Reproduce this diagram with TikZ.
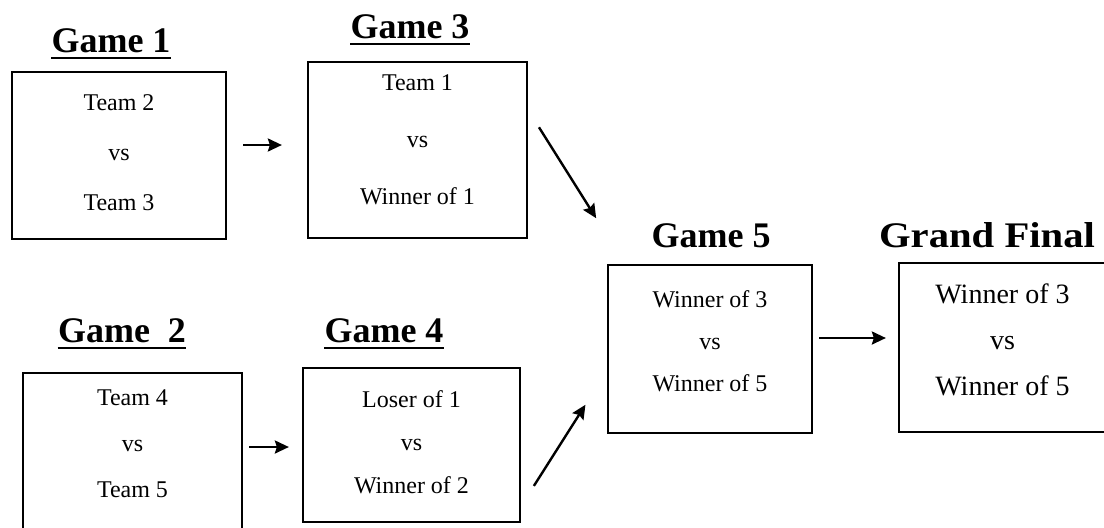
\documentclass[tikz,border=0pt]{standalone}
\usepackage{fontspec}
\setmainfont{Liberation Serif}
\usepackage{graphicx}
\usetikzlibrary{arrows.meta}

\tikzset{
  gamebox/.style={draw, line width=1.1pt, inner sep=0pt, align=center,
    font=\fontsize{12}{14.5}\selectfont},
  finalbox/.style={gamebox, font=\fontsize{14}{17}\selectfont},
  gametitle/.style={anchor=base, inner sep=0pt, font=\fontsize{18}{21}\selectfont\bfseries},
  titleline/.style={line width=1pt},
  advance/.style={-{Stealth[length=7pt,width=6.5pt,inset=1pt]}, line width=1.2pt}
}
\newcommand{\lowstrut}[1]{\rule[-#1]{0pt}{0pt}}

\begin{document}
\begin{tikzpicture}[x=0.5pt,y=-0.5pt]
\clip (0,0) rectangle (1104,527);

% titles
\node[gametitle] (t1) at (111,52) {Game 1};
\node[gametitle] (t3) at (410,38) {Game 3};
\node[gametitle] (t2) at (122,342) {Game\ \ 2};
\node[gametitle] (t4) at (384,342) {Game 4};
\node[gametitle] (t5) at (711,247) {Game 5};
\node[gametitle] (tf) at (987,247) {\scalebox{1.13}[1]{Grand Final}};
\foreach \t in {t1,t3,t2,t4}
  \draw[titleline] ([yshift=-3pt]\t.base west) -- ([yshift=-3pt]\t.base east);

% games
\node[gamebox, minimum width=107pt, minimum height=83.5pt] (g1) at (119,155.5)
  {Team 2\\[10.5pt]vs\\[10.5pt]Team 3\lowstrut{3pt}};
\node[gamebox, minimum width=109.5pt, minimum height=88pt] (g3) at (417.5,150)
  {Team 1\\[14pt]vs\\[14pt]Winner of 1\lowstrut{10pt}};
\node[gamebox, minimum width=109.5pt, minimum height=93.5pt] (g2) at (132.5,466.5)
  {Team 4\\[8.5pt]vs\\[8.5pt]Team 5\lowstrut{22.5pt}};
\node[gamebox, minimum width=108.5pt, minimum height=77pt] (g4) at (411.5,445)
  {Loser of 1\\[7pt]vs\\[7pt]Winner of 2\lowstrut{3pt}};
\node[gamebox, minimum width=102pt, minimum height=84pt] (g5) at (710,349)
  {Winner of 3\\[6.5pt]vs\\[6.5pt]Winner of 5\lowstrut{8pt}};
\node[finalbox, minimum width=103.5pt, minimum height=84.5pt] (gf) at (1002.5,347.5)
  {Winner of 3\\[6pt]vs\\[6pt]Winner of 5\lowstrut{8pt}};

% arrows
\coordinate (a1) at ([yshift=5.25pt]g1.east);
\draw[advance, shorten <=8pt, shorten >=12.5pt] (a1) -- (a1 -| g3.west);
\coordinate (a2) at ([yshift=-1pt]g4.west);
\draw[advance, shorten <=3pt, shorten >=6.5pt] (a2 -| g2.east) -- (a2);
\draw[advance, shorten <=10.2pt, shorten >=27pt] ([yshift=20pt]g3.east) -- ([xshift=9pt]g5.north west);
\draw[advance, shorten <=11.9pt, shorten >=20pt] ([yshift=-30.5pt]g4.east) -- ([yshift=-11pt]g5.west);
\coordinate (a5) at ([yshift=5.5pt]g5.east);
\draw[advance, shorten <=3pt, shorten >=6pt] (a5) -- (a5 -| gf.west);
\end{tikzpicture}
\end{document}
